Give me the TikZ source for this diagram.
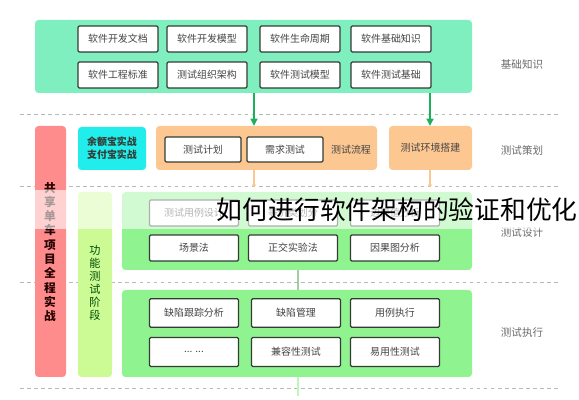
\documentclass[tikz,border=0pt]{standalone}
\usepackage{fontspec}
\setmainfont{Noto Sans CJK SC}
\usetikzlibrary{fit,arrows.meta}

\definecolor{mint}{HTML}{80EFC0}
\definecolor{peach}{HTML}{FDC792}
\definecolor{aqua}{HTML}{22EDED}
\definecolor{salmon}{HTML}{FF8C8C}
\definecolor{lime}{HTML}{CCFB96}
\definecolor{leaf}{HTML}{8FF48F}
\definecolor{boxline}{HTML}{333B33}
\definecolor{textgray}{HTML}{444444}
\definecolor{arrowgreen}{HTML}{1DB05B}

\begin{document}
\begin{tikzpicture}[x=0.03cm,y=-0.03cm,
	band/.style={fill=#1, rounded corners=3pt, inner sep=0pt},
	item/.style={draw=boxline, line width=1.1pt, fill=white, rounded corners=1pt,
		minimum width=2.4cm, minimum height=0.78cm, inner sep=0pt,
		font=\fontsize{8.5}{10}\selectfont, text=textgray},
	wide/.style={item, minimum width=2.67cm},
	side/.style={font=\fontsize{9}{11}\selectfont, text=textgray!80},
	sep/.style={draw=gray!55, dashed, line width=.6pt},
	garrow/.style={draw=arrowgreen, line width=1pt, -{Triangle[length=6pt,width=6pt]}},
	faint/.style={draw=#1, line width=1pt, -{Circle[length=3pt]}}]
\useasboundingbox (0,0) rectangle (579,400);

% separators
\draw[sep] (20,114) -- (558,114);
\draw[sep] (20,186) -- (558,186);
\draw[sep] (20,282) -- (558,282);
\draw[sep] (20,388) -- (558,388);

% base knowledge
\node[band=mint, fit={(35,20) (472,93)}] (jichu) {};
\node[item] (k1) at (118,39) {软件开发文档};
\node[item] (k2) at (207,39) {软件开发模型};
\node[item] (k3) at (300,39) {软件生命周期};
\node[item] (k4) at (391,39) {软件基础知识};
\node[item] (k5) at (118,75) {软件工程标准};
\node[item] (k6) at (207,75) {测试组织架构};
\node[item] (k7) at (300,75) {软件测试模型};
\node[item] (k8) at (391,75) {软件测试基础};
\node[side] (l1) at (522,64) {基础知识};

% planning
\node[band=salmon, fit={(35,126) (66,377)}] (xiangmu) {};
\node[band=aqua, fit={(78,127) (146,170)}] (zhifu) {};
\node[font=\fontsize{8.5}{11}\selectfont\bfseries, text=boxline, align=center] at (zhifu) {余额宝实战\\支付宝实战};
\node[band=peach, fit={(156,126) (377,170)}] (liucheng) {};
\node[item, minimum width=2.28cm, minimum height=.75cm] (p1) at (203,149.5) {测试计划};
\node[item, minimum width=2.28cm, minimum height=.75cm] (p2) at (285,149.5) {需求测试};
\node[font=\fontsize{8.5}{10}\selectfont, text=textgray] (p3) at (351,149.5) {测试流程};
\node[band=peach, fit={(389,126) (472,170)}] (huanjing) {};
\node[font=\fontsize{8.5}{10}\selectfont, text=textgray] at (huanjing) {测试环境搭建};
\node[side] (l2) at (522,150) {测试策划};

\coordinate (a1) at (254,0);
\coordinate (a2) at (430,0);
\coordinate (a3) at (298,0);
\draw[garrow] (jichu.south -| a1) -- (liucheng.north -| a1);
\draw[garrow] (jichu.south -| a2) -- (huanjing.north -| a2);

% design
\node[band=lime, fit={(78,192) (112,377)}] (gongneng) {};
\node[band=leaf, fit={(122,192) (472,270)}] (sheji) {};
\draw[faint=peach] (liucheng.south -| a1) -- (254,187);
\draw[faint=peach] (huanjing.south -| a2) -- (430,187);
\node[wide] (d1) at (194,213) {测试用例设计};
\node[wide] (d2) at (293,213) {等价类划分};
\node[wide] (d3) at (395,213) {边界值分析};
\node[wide] (d4) at (194,248) {场景法};
\node[wide] (d5) at (293,248) {正交实验法};
\node[wide] (d6) at (395,248) {因果图分析};
\node[side] (l3) at (522,233) {测试设计};

% execution
\node[band=leaf, fit={(122,290) (472,377)}] (zhixing) {};
\draw[draw=leaf!70!black!60, line width=1pt] (sheji.south -| a3) -- (zhixing.north -| a3);
\coordinate (tail) at (298,396);
\draw[draw=leaf!60, line width=1pt] (zhixing.south -| a3) -- (tail);
\node[wide, minimum height=.85cm] (e1) at (194,313) {缺陷跟踪分析};
\node[wide, minimum height=.85cm] (e2) at (296,313) {缺陷管理};
\node[wide, minimum height=.85cm] (e3) at (395,313) {用例执行};
\node[wide, minimum height=.87cm] (e4) at (194,352) {... ...};
\node[wide, minimum height=.87cm] (e5) at (296,352) {兼容性测试};
\node[wide, minimum height=.87cm] (e6) at (395,352) {易用性测试};
\node[side] (l4) at (522,333) {测试执行};

% vertical texts
\node[font=\fontsize{10}{12.2}\selectfont\bfseries, text=black!85!red, align=center] (v1) at (50,252) {共\\享\\单\\车\\项\\目\\全\\程\\实\\战};
\node[font=\fontsize{9.5}{11.1}\selectfont, text=green!30!black, align=center] (v2) at (95,283) {功\\能\\测\\试\\阶\\段};

% overlay title
\fill[white, opacity=.6] (0,190) rectangle (579,229);
\node[font=\fontsize{22}{24}\selectfont, anchor=east, inner sep=0pt] (title) at (578,210) {如何进行软件架构的验证和优化};
\end{tikzpicture}
\end{document}
